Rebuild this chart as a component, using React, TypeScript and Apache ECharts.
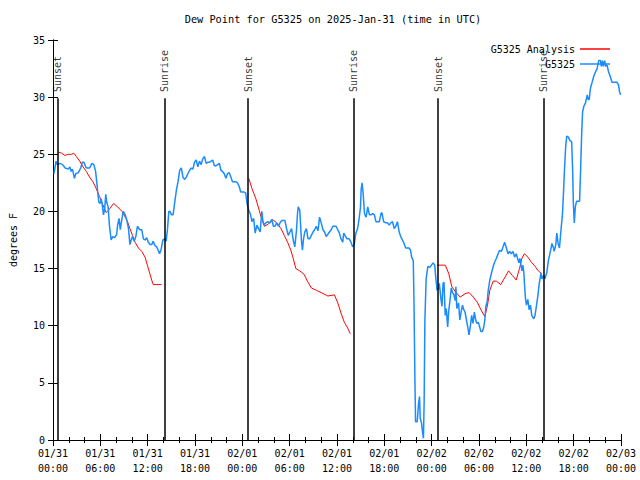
import React, { useEffect, useRef } from "react";
import * as echarts from "echarts";

const FONT = "DejaVu Sans Mono";

const titleText = "Dew Point for G5325 on 2025-Jan-31 (time in UTC)";

const tickLabels = [
  "01/31\n00:00", "01/31\n06:00", "01/31\n12:00", "01/31\n18:00",
  "02/01\n00:00", "02/01\n06:00", "02/01\n12:00", "02/01\n18:00",
  "02/02\n00:00", "02/02\n06:00", "02/02\n12:00", "02/02\n18:00",
  "02/03\n00:00",
];

const sunHours = [0.63, 14.18, 24.72, 38.14, 48.81, 62.23];
const sunNames = ["Sunset", "Sunrise", "Sunset", "Sunrise", "Sunset", "Sunrise"];

const observed: [number, number][] = [
  [0.13, 23.3], [0.38, 24.4], [0.54, 24.1], [0.88, 24.2], [1.22, 24.1], [1.54, 23.8],
  [1.92, 23.7], [2.13, 23.9], [2.3, 23.5], [2.47, 23.7], [2.72, 22.9], [2.89, 23.3],
  [3.22, 23.4], [3.51, 23.8], [3.73, 24.3], [3.93, 24.3], [4.14, 23.9], [4.3, 23.8],
  [4.64, 23.8], [4.93, 24.2], [5.18, 24.1], [5.4, 23.5], [5.56, 22.5], [5.68, 21.6],
  [5.81, 20.8], [5.98, 20.7], [6.11, 21.1], [6.24, 20.6], [6.4, 19.7], [6.56, 20.3],
  [6.69, 21.5], [6.81, 20.8], [6.99, 20.4], [7.15, 18.8], [7.37, 17.5], [7.57, 17.8],
  [7.82, 17.7], [8.07, 18.0], [8.19, 18.8], [8.37, 19.4], [8.53, 18.4], [8.7, 19.2],
  [8.91, 20.0], [9.16, 19.7], [9.37, 19.2], [9.57, 18.5], [9.75, 17.1], [9.91, 17.5],
  [10.08, 17.8], [10.29, 17.4], [10.5, 17.8], [10.7, 18.7], [11.0, 18.4], [11.25, 18.4],
  [11.46, 17.6], [11.67, 17.5], [11.88, 17.7], [12.08, 17.3], [12.3, 17.1], [12.51, 17.1],
  [12.71, 17.4], [12.92, 17.0], [13.14, 16.9], [13.34, 16.6], [13.51, 16.3], [13.71, 16.7],
  [13.93, 17.5], [14.18, 17.6], [14.34, 17.4], [14.52, 18.5], [14.68, 20.0], [14.84, 20.0],
  [15.02, 19.7], [15.22, 19.7], [15.43, 20.8], [15.65, 21.9], [15.85, 22.6], [16.06, 23.6],
  [16.27, 23.8], [16.47, 23.0], [16.69, 22.8], [16.9, 23.0], [17.1, 23.3], [17.31, 23.6],
  [17.53, 23.8], [17.73, 23.7], [17.94, 24.3], [18.16, 24.5], [18.36, 23.9], [18.57, 24.4],
  [18.78, 24.1], [18.98, 24.6], [19.2, 24.8], [19.41, 24.2], [19.61, 24.3], [19.82, 24.3],
  [20.04, 24.4], [20.24, 24.5], [20.45, 24.0], [20.67, 24.0], [20.87, 24.1], [21.08, 24.2],
  [21.29, 23.6], [21.49, 23.5], [21.71, 23.3], [21.92, 22.9], [22.12, 23.3], [22.33, 23.4],
  [22.55, 23.0], [22.75, 22.6], [22.96, 22.6], [23.17, 22.6], [23.38, 22.5], [23.59, 22.2],
  [23.8, 21.7], [24.0, 21.7], [24.22, 21.7], [24.43, 21.6], [24.59, 20.7], [24.81, 20.1],
  [25.01, 19.8], [25.22, 19.1], [25.43, 19.4], [25.63, 18.1], [25.85, 18.8], [26.06, 18.5],
  [26.26, 18.2], [26.47, 20.0], [26.6, 19.2], [26.73, 18.8], [26.98, 19.0], [27.23, 19.1],
  [27.52, 19.0], [27.73, 19.3], [27.94, 18.7], [28.14, 18.7], [28.36, 19.0], [28.57, 18.7],
  [28.77, 19.0], [28.98, 19.2], [29.2, 19.2], [29.4, 19.2], [29.61, 18.5], [29.82, 17.9],
  [30.03, 18.2], [30.24, 18.5], [30.45, 17.5], [30.65, 16.9], [30.87, 18.4], [30.99, 19.8],
  [31.08, 20.4], [31.28, 20.1], [31.49, 17.5], [31.62, 16.6], [31.74, 17.5], [31.91, 18.2],
  [32.12, 18.5], [32.33, 17.6], [32.53, 17.6], [32.75, 17.9], [32.96, 18.2], [33.16, 18.4],
  [33.38, 18.7], [33.59, 18.3], [33.79, 19.5], [34.0, 19.0], [34.22, 18.4], [34.42, 18.2],
  [34.63, 17.8], [34.84, 18.0], [35.04, 18.2], [35.26, 18.4], [35.47, 18.7], [35.67, 18.7],
  [35.88, 18.7], [36.1, 18.4], [36.3, 18.1], [36.51, 17.6], [36.73, 17.3], [36.85, 18.1],
  [37.01, 17.9], [37.26, 17.6], [37.55, 17.6], [37.77, 17.3], [37.98, 16.9], [38.18, 17.1],
  [38.39, 18.1], [38.61, 18.5], [38.81, 19.4], [38.98, 20.4], [39.06, 21.9], [39.18, 22.5],
  [39.31, 21.6], [39.49, 19.8], [39.69, 19.5], [39.9, 20.4], [40.11, 19.7], [40.31, 19.7],
  [40.53, 19.8], [40.74, 19.7], [40.94, 19.1], [41.15, 19.1], [41.37, 19.1], [41.57, 19.8],
  [41.69, 19.9], [41.91, 19.1], [42.2, 19.0], [42.41, 19.0], [42.62, 18.8], [42.82, 19.0],
  [43.04, 19.1], [43.25, 18.5], [43.45, 18.7], [43.66, 19.1], [43.88, 18.2], [44.08, 17.8],
  [44.29, 17.5], [44.5, 17.2], [44.71, 16.8], [44.92, 16.8], [45.13, 16.8], [45.33, 16.6],
  [45.46, 16.0], [45.67, 15.7], [45.76, 12.0], [45.88, 5.1], [45.96, 1.6], [46.17, 1.6],
  [46.34, 3.2], [46.46, 3.8], [46.55, 1.9], [46.71, 1.5], [46.84, 0.7], [46.96, 0.15],
  [47.05, 3.5], [47.14, 10.5], [47.3, 14.1], [47.52, 15.2], [47.77, 15.1], [47.97, 15.3],
  [48.18, 15.5], [48.39, 15.3], [48.47, 14.6], [48.68, 13.1], [48.9, 13.3], [48.97, 13.7],
  [49.18, 12.3], [49.31, 11.7], [49.44, 13.7], [49.56, 13.8], [49.72, 10.9], [49.85, 11.5],
  [50.03, 9.9], [50.15, 11.2], [50.35, 12.4], [50.48, 13.3], [50.65, 12.9], [50.82, 12.7],
  [50.98, 12.2], [51.07, 13.4], [51.19, 11.5], [51.41, 12.0], [51.57, 10.5], [51.73, 11.2],
  [51.91, 11.8], [52.07, 11.4], [52.23, 11.2], [52.41, 10.5], [52.57, 9.9], [52.74, 9.2],
  [52.91, 10.0], [53.07, 10.9], [53.24, 10.2], [53.41, 11.2], [53.58, 10.5], [53.74, 10.2],
  [53.91, 10.3], [54.08, 9.9], [54.24, 9.5], [54.42, 9.5], [54.58, 9.8], [54.74, 10.5],
  [54.87, 11.7], [55.04, 12.1], [55.17, 13.1], [55.37, 14.0], [55.58, 14.6], [55.8, 15.2],
  [56.0, 15.6], [56.21, 15.9], [56.42, 16.3], [56.62, 16.6], [56.84, 16.5], [57.05, 16.9],
  [57.25, 17.3], [57.47, 16.8], [57.68, 16.3], [57.88, 16.5], [58.09, 16.3], [58.31, 16.5],
  [58.51, 16.0], [58.72, 16.3], [58.93, 15.8], [59.06, 15.5], [59.18, 15.9], [59.35, 15.2],
  [59.44, 14.8], [59.56, 15.3], [59.69, 14.6], [59.76, 13.7], [59.89, 12.4], [60.01, 11.8],
  [60.19, 12.3], [60.35, 11.4], [60.52, 11.8], [60.69, 10.9], [60.94, 10.6], [61.1, 10.9],
  [61.27, 11.7], [61.44, 12.5], [61.64, 13.7], [61.86, 14.6], [61.98, 14.1], [62.2, 14.4],
  [62.36, 14.1], [62.61, 14.7], [62.77, 15.6], [62.95, 16.2], [63.11, 16.7], [63.24, 17.2],
  [63.45, 16.8], [63.52, 16.5], [63.74, 17.1], [63.86, 18.1], [64.03, 17.2], [64.2, 16.8],
  [64.37, 18.2], [64.58, 19.8], [64.71, 21.6], [64.83, 23.6], [64.99, 25.7], [65.12, 26.6],
  [65.33, 26.5], [65.53, 26.2], [65.75, 26.1], [65.87, 23.6], [65.96, 20.7], [66.08, 19.0],
  [66.21, 20.4], [66.37, 20.9], [66.59, 20.9], [66.75, 20.9], [66.88, 23.6], [67.0, 26.5],
  [67.13, 28.7], [67.29, 29.2], [67.5, 29.5], [67.72, 30.2], [67.84, 29.8], [67.97, 29.8],
  [68.13, 30.8], [68.34, 31.3], [68.54, 31.8], [68.76, 32.2], [68.97, 32.5], [69.17, 33.2],
  [69.39, 33.2], [69.51, 32.7], [69.64, 33.2], [69.76, 32.7], [69.93, 33.2], [70.05, 32.7],
  [70.23, 32.8], [70.43, 32.2], [70.64, 31.8], [70.85, 31.3], [71.06, 31.3], [71.27, 31.3],
  [71.48, 31.3], [71.68, 31.1], [71.81, 30.5], [71.95, 30.2],
];

const analysisRun1: [number, number][] = [
  [0.66, 25.2], [1.09, 25.1], [1.51, 24.9], [1.92, 25.0], [2.35, 25.0], [2.63, 25.1],
  [2.97, 24.8], [3.39, 24.4], [3.8, 23.9], [4.23, 23.5], [4.64, 23.0], [5.06, 22.6],
  [5.48, 22.0], [5.9, 21.3], [6.31, 20.6], [6.74, 19.9], [7.15, 20.2], [7.69, 20.7],
  [8.19, 20.4], [8.75, 20.0], [9.16, 19.5], [9.45, 19.1], [9.75, 18.5], [10.08, 17.9],
  [10.41, 17.3], [10.83, 16.8], [11.25, 16.5], [11.67, 16.0], [11.96, 15.3], [12.26, 14.6],
  [12.51, 14.0], [12.71, 13.6], [13.09, 13.6], [13.43, 13.6], [13.76, 13.6],
];
const analysisRun2: [number, number][] = [
  [24.81, 22.9], [25.22, 22.0], [25.72, 21.1], [26.14, 20.1], [26.39, 19.5], [26.81, 18.7],
  [27.31, 18.9], [27.82, 19.3], [28.36, 19.0], [28.9, 18.5], [29.32, 17.9], [29.74, 17.3],
  [30.15, 16.6], [30.45, 15.9], [30.78, 15.0], [31.28, 14.8], [31.83, 14.5], [32.25, 13.9],
  [32.75, 13.3], [33.38, 13.1], [34.0, 12.9], [34.84, 12.6], [35.67, 12.7], [36.1, 12.0],
  [36.51, 11.1], [36.93, 10.3], [37.35, 9.8], [37.68, 9.3],
];
const analysisRun3: [number, number][] = [
  [48.68, 15.3], [49.72, 15.3], [50.15, 14.6], [50.56, 13.4], [50.98, 13.0], [51.61, 12.5],
  [52.23, 12.8], [52.74, 12.9], [53.29, 12.5], [53.83, 12.0], [54.24, 11.4], [54.74, 10.8],
  [55.08, 11.8], [55.37, 13.1], [55.8, 13.9], [56.21, 13.9], [56.75, 13.6], [57.18, 14.1],
  [57.75, 14.8], [58.22, 14.4], [58.72, 14.0], [59.13, 15.0], [59.44, 15.9], [59.76, 16.3],
  [60.19, 16.0], [60.6, 15.6], [61.1, 15.2], [61.52, 14.8], [61.86, 14.6],
];

const SUN_LINE_TOP = 29.9;
const SUN_LABEL_BASE = 30.45;

export default function App() {
  const ref = useRef<HTMLDivElement>(null);
  useEffect(() => {
    document.body.style.margin = "0";
    if (!ref.current) return;
    const chart = echarts.init(ref.current, null, { renderer: "svg" });

    const axisLine = { show: true, lineStyle: { color: "#000", width: 1 } };
    const tick = { show: true, inside: true, length: 6, lineStyle: { color: "#000", width: 1 } };
    const minorTick = { show: true, splitNumber: 3, length: 3, lineStyle: { color: "#000", width: 1 } };
    const labelStyle = { fontFamily: FONT, fontSize: 10, color: "#000" };

    const xBase = {
      type: "value" as const,
      min: 0,
      max: 72,
      interval: 6,
      axisLine,
      axisTick: tick,
      minorTick,
      splitLine: { show: false },
    };
    const yBase = {
      type: "value" as const,
      min: 0,
      max: 35,
      interval: 5,
      axisLine,
      axisTick: { ...tick, length: 5 },
      splitLine: { show: false },
    };

    const analysisSeries = [analysisRun1, analysisRun2, analysisRun3].map((run) => ({
      name: "G5325 Analysis",
      type: "line",
      data: run,
      symbol: "none",
      lineStyle: { color: "#ff0000", width: 1 },
      itemStyle: { color: "#ff0000" },
      z: 3,
    }));

    const legendBase = {
      right: 25,
      align: "right",
      icon: "rect",
      itemWidth: 30,
      itemHeight: 1.5,
      textStyle: labelStyle,
    };

    chart.setOption({
      animation: false,
      backgroundColor: "#fff",
      textStyle: { fontFamily: FONT },
      graphic: [
        {
          type: "text",
          x: 333,
          y: 19,
          scaleX: 0.935,
          style: {
            text: titleText,
            align: "center",
            verticalAlign: "middle",
            fontFamily: FONT,
            fontSize: 11,
            fill: "#000",
          },
        },
      ],
      grid: { left: 47, right: 19, top: 40, bottom: 40, containLabel: false },
      legend: [
        { ...legendBase, data: ["G5325 Analysis"], top: 39 },
        { ...legendBase, data: ["G5325"], top: 54 },
      ],
      xAxis: [
        {
          ...xBase,
          position: "bottom",
          axisLabel: {
            ...labelStyle,
            showMinLabel: true,
            showMaxLabel: true,
            lineHeight: 15,
            margin: 6,
            formatter: (v: number) => tickLabels[Math.round(v / 6)] ?? "",
          },
        },
        { ...xBase, position: "top", axisLabel: { show: false } },
      ],
      yAxis: [
        {
          ...yBase,
          position: "left",
          name: "degrees F",
          nameLocation: "middle",
          nameGap: 35,
          nameRotate: 90,
          nameTextStyle: labelStyle,
          axisLabel: { ...labelStyle, margin: 8 },
        },
        { ...yBase, position: "right", axisLabel: { show: false } },
      ],
      series: [
        ...analysisSeries,
        {
          name: "G5325",
          type: "line",
          data: observed,
          symbol: "none",
          lineStyle: { color: "#1a8cff", width: 1.5 },
          itemStyle: { color: "#1a8cff" },
          z: 4,
        },
        {
          type: "scatter",
          data: sunHours.map((h, i) => ({ value: [h, SUN_LABEL_BASE], name: sunNames[i] })),
          symbolSize: 1,
          itemStyle: { color: "rgba(0,0,0,0)" },
          label: {
            show: true,
            position: "inside",
            rotate: 90,
            align: "left",
            verticalAlign: "middle",
            formatter: (p: any) => p.name,
            ...labelStyle,
          },
          silent: true,
          z: 5,
          markLine: {
            silent: true,
            symbol: "none",
            label: { show: false },
            lineStyle: { color: "#000", width: 1.5, type: "solid" },
            data: sunHours.map((h) => [
              { coord: [h, 0] },
              { coord: [h, SUN_LINE_TOP] },
            ]),
          },
        },
      ],
    });

    return () => chart.dispose();
  }, []);

  return <div ref={ref} style={{ width: 640, height: 480 }} />;
}
